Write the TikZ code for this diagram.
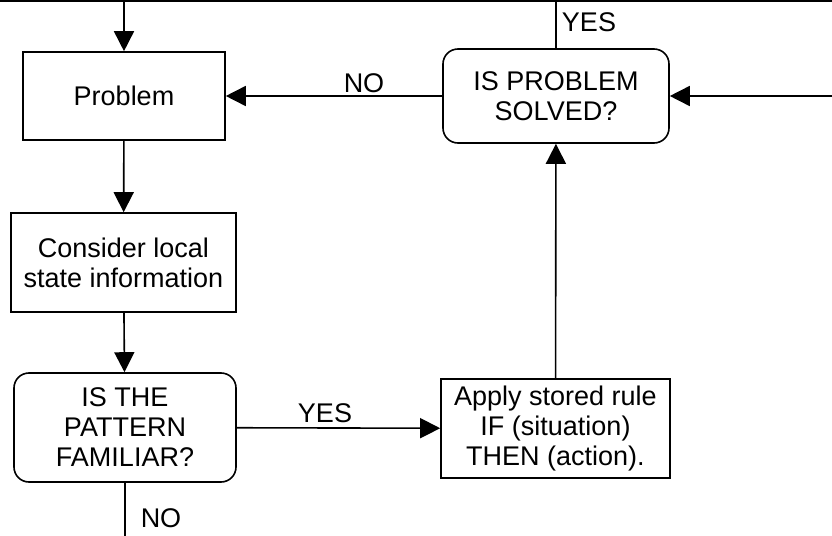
\documentclass[tikz,border=0pt]{standalone}
\usepackage{fontspec}
\setmainfont{Liberation Sans}
\usetikzlibrary{arrows.meta}
\tikzset{
  box/.style={draw, line width=0.8pt, align=center, inner sep=2pt,
    font=\fontsize{13.5}{15}\selectfont},
  ask/.style={box, rounded corners=7.5pt},
  arr/.style={line width=0.8pt, -{Triangle[length=10pt,width=10pt]}},
  lbl/.style={font=\fontsize{13.5}{15}\selectfont, inner sep=0pt}
}
\begin{document}
\begin{tikzpicture}[x=0.5pt,y=-0.5pt]
			\useasboundingbox (0,0) rectangle (832,536);
			\node[box, minimum width=101pt, minimum height=44pt] (problem) at (124,96) {Problem};
			\node[box, minimum width=112.5pt, minimum height=49.5pt] (consider) at (123.5,262.5) {Consider local\\state information};
			\node[ask, minimum width=111pt, minimum height=54.5pt] (familiar) at (125,427.5) {IS THE\\PATTERN\\FAMILIAR?};
			\node[box, minimum width=114.5pt, minimum height=49.5pt] (apply) at (555.5,428.5) {Apply stored rule\\IF (situation)\\THEN (action).};
			\node[ask, minimum width=113pt, minimum height=47pt] (solved) at (556,96) {IS PROBLEM\\SOLVED?};
			\coordinate (topL) at (0,1.2);
			\coordinate (topR) at (832,1.2);
			\coordinate (inR) at (832,96);
			\coordinate (outB) at (125,536);
			% loop back along the top
			\draw[line width=1.2pt] (topL) -- (topR);
			\draw[arr] (problem.north |- topL) -- (problem);
			\draw[line width=0.8pt] (solved) -- (solved.north |- topL);
			\draw[arr] (inR) -- (solved);
			\draw[arr] (solved) -- (problem);
			\draw[arr] (problem) -- (consider);
			\draw[arr] (consider) -- (familiar);
			\draw[arr] (familiar) -- (apply);
			\draw[arr] (apply) -- (solved);
			\draw[line width=0.8pt] (familiar) -- (outB);
			% answers
			\node[lbl] (yesTop) at (589,22) {YES};
			\node[lbl] (noTop) at (364,83) {NO};
			\node[lbl] (yesMid) at (325,413) {YES};
			\node[lbl] (noBot) at (161,518) {NO};
		\end{tikzpicture}
\end{document}
